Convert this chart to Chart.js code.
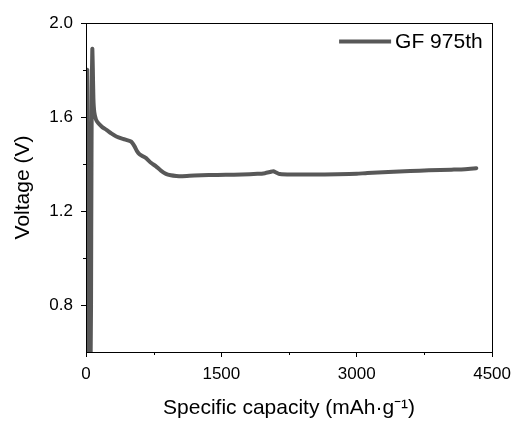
<!DOCTYPE html>
<html>
<head>
<meta charset="utf-8">
<script src="https://cdn.jsdelivr.net/npm/chart.js@4"></script>
<style>
  html, body { margin: 0; padding: 0; background: #fff; }
  #wrap { width: 518px; height: 421px; }
</style>
</head>
<body>
<div id="wrap"><canvas id="chart"></canvas></div>
<script>
// GF 975th discharge curve
const capacity = [0, 3, 8, 14, 20, 26, 50, 58, 64, 70, 76, 82, 92, 110, 135, 180, 227, 280, 336, 400,
    446, 501, 538, 565, 593, 630, 666, 720, 776, 830, 886, 940, 1000, 1068, 1200, 1361, 1550, 1727,
    1900, 1983, 2040, 2075, 2110, 2148, 2275, 2500, 2787, 3000, 3117, 3350, 3592, 3800, 4050, 4200, 4325];
const voltage = [1.00, 1.78, 1.70, 1.80, 1.40, 0.50, 0.50, 1.10, 1.72, 1.89, 1.80, 1.68, 1.62, 1.59, 1.574,
    1.557, 1.545, 1.530, 1.517, 1.508, 1.503, 1.495, 1.475, 1.455, 1.442, 1.433, 1.425, 1.405, 1.390,
    1.372, 1.358, 1.352, 1.349, 1.348, 1.351, 1.353, 1.354, 1.355, 1.358, 1.361, 1.366, 1.369, 1.363,
    1.357, 1.355, 1.355, 1.356, 1.358, 1.362, 1.366, 1.370, 1.373, 1.376, 1.378, 1.382];
const seriesLabel = 'GF 975th';

const xLabels = [0, 1500, 3000, 4500];
const yLabels = [0.8, 1.2, 1.6, 2.0];

const FONT = 'Arial, "Liberation Sans", Helvetica, sans-serif';
const lineColor = '#585858';

const isXMajor = (v) => xLabels.includes(Math.round(v));
const isYMajor = (v) => yLabels.some((l) => Math.abs(l - v) < 1e-6);

// frame box, minor ticks, and legend inside the plot
const framePlugin = {
    id: 'frame',
    afterDraw(chart) {
        const { ctx, chartArea: a, scales } = chart;
        ctx.save();
        ctx.strokeStyle = '#000';
        ctx.lineWidth = 1;
        ctx.strokeRect(Math.round(a.left) + 0.5, Math.round(a.top) + 0.5,
            Math.round(a.right - a.left), Math.round(a.bottom - a.top));

        // minor ticks (shorter)
        ctx.beginPath();
        scales.x.ticks.forEach((t) => {
            if (isXMajor(t.value)) return;
            const px = Math.round(scales.x.getPixelForValue(t.value)) + 0.5;
            ctx.moveTo(px, a.bottom);
            ctx.lineTo(px, a.bottom + 3);
        });
        scales.y.ticks.forEach((t) => {
            if (isYMajor(t.value) || Math.abs(t.value - 0.6) < 1e-6) return;
            const py = Math.round(scales.y.getPixelForValue(t.value)) + 0.5;
            ctx.moveTo(a.left, py);
            ctx.lineTo(a.left - 3, py);
        });
        ctx.stroke();

        // legend
        const ds = chart.data.datasets[0];
        const ly = a.top + 18.5;
        const lx = a.right - 153;
        ctx.strokeStyle = ds.borderColor;
        ctx.lineWidth = ds.borderWidth;
        ctx.beginPath();
        ctx.moveTo(lx, ly);
        ctx.lineTo(lx + 52, ly);
        ctx.stroke();
        ctx.fillStyle = '#000';
        ctx.font = '21px ' + FONT;
        ctx.textBaseline = 'middle';
        ctx.textAlign = 'left';
        ctx.fillText(ds.label, lx + 56, ly + 1);
        ctx.restore();
    }
};

const ctx = document.getElementById('chart').getContext('2d');
new Chart(ctx, {
    type: 'scatter',
    data: {
        datasets: [{
            label: seriesLabel,
            data: capacity.map((c, i) => ({ x: c, y: voltage[i] })),
            showLine: true,
            borderColor: lineColor,
            borderWidth: 4,
            pointRadius: 0,
            tension: 0.2,
            borderJoinStyle: 'round',
            borderCapStyle: 'round',
        }]
    },
    options: {
        responsive: true,
        maintainAspectRatio: false,
        animation: false,
        layout: { padding: { left: 0, top: 23, right: 22, bottom: 0 } },
        plugins: { legend: { display: false }, tooltip: { enabled: false } },
        scales: {
            x: {
                type: 'linear',
                min: 0,
                max: 4500,
                border: { display: false },
                grid: {
                    drawOnChartArea: false,
                    drawTicks: true,
                    tickLength: 5,
                    color: (c) => (c.tick && isXMajor(c.tick.value) ? '#000' : 'rgba(0,0,0,0)'),
                },
                ticks: {
                    stepSize: 750,
                    padding: 7,
                    color: '#000',
                    font: { family: FONT, size: 17 },
                    maxRotation: 0,
                    autoSkip: false,
                    callback: (v) => (isXMajor(v) ? String(v) : ''),
                },
                title: {
                    display: true,
                    text: 'Specific capacity (mAh·g⁻¹)',
                    color: '#000',
                    font: { family: FONT, size: 21 },
                    padding: { top: 0, bottom: 0 },
                },
                afterFit: (s) => { s.height = 69; },
            },
            y: {
                min: 0.6,
                max: 2.0,
                border: { display: false },
                grid: {
                    drawOnChartArea: false,
                    drawTicks: true,
                    tickLength: 5,
                    color: (c) => (c.tick && isYMajor(c.tick.value) ? '#000' : 'rgba(0,0,0,0)'),
                },
                ticks: {
                    stepSize: 0.2,
                    padding: 8,
                    color: '#000',
                    font: { family: FONT, size: 17 },
                    autoSkip: false,
                    callback: (v) => (isYMajor(v) ? v.toFixed(1) : ''),
                },
                title: {
                    display: true,
                    text: 'Voltage (V)',
                    color: '#000',
                    font: { family: FONT, size: 21 },
                    padding: { top: 11, bottom: 0 },
                },
                afterFit: (s) => { s.width = 86; },
            }
        }
    },
    plugins: [framePlugin]
});
</script>
</body>
</html>
